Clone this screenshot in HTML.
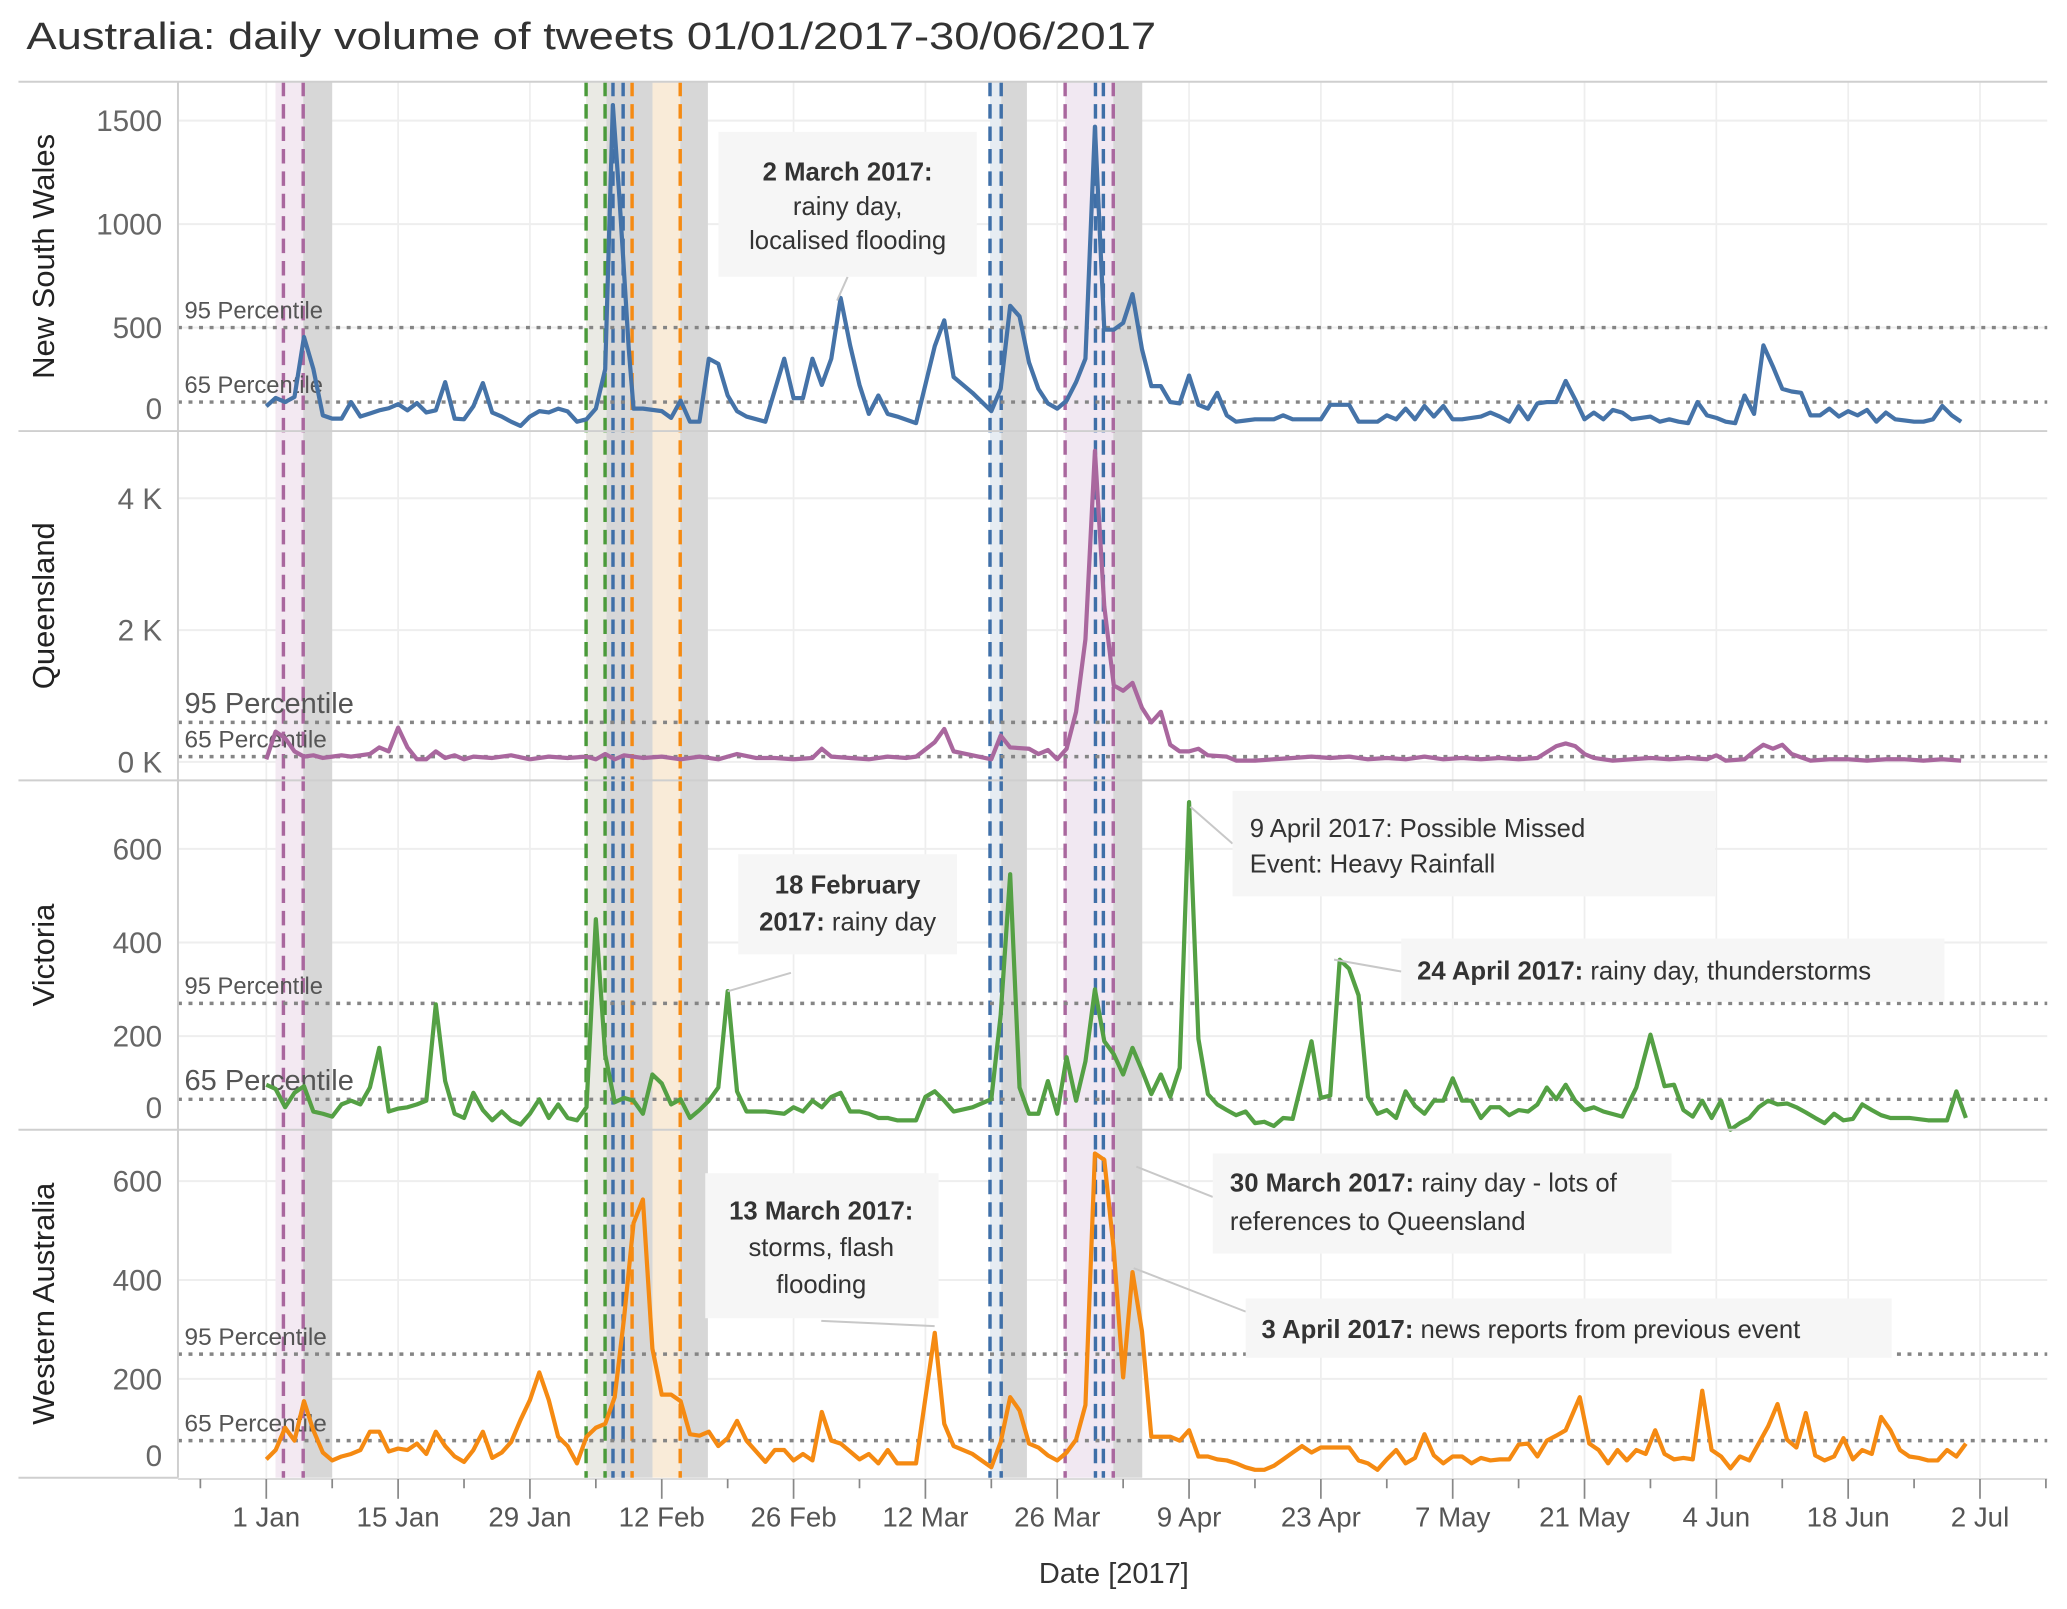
<!DOCTYPE html>
<html><head><meta charset="utf-8"><style>
html,body{margin:0;padding:0;background:#fff;}
svg{display:block;font-family:"Liberation Sans",sans-serif;}
</style></head><body>
<svg id="chart" width="2067" height="1609" viewBox="0 0 1568 1220.6" preserveAspectRatio="none" xmlns="http://www.w3.org/2000/svg">
<text x="20" y="37" font-size="29" fill="#333" textLength="857" lengthAdjust="spacingAndGlyphs">Australia: daily volume of tweets 01/01/2017-30/06/2017</text>
<g id="bg"></g><g id="grid"></g><g id="bands"></g><g id="pct"></g><g id="series"></g><g id="annot"></g><g id="axes"></g>
</svg>
<script>
// ---- data ----
const tickLabels = ["1 Jan","15 Jan","29 Jan","12 Feb","26 Feb","12 Mar","26 Mar","9 Apr","23 Apr","7 May","21 May","4 Jun","18 Jun","2 Jul"];
const regions = ["New South Wales","Queensland","Victoria","Western Australia"];
const nswDays = [0,1,2,3,4,5,6,7,8,9,10,11,12,13,14,15,16,17,18,19,20,21,22,23,24,25,26,27,28,29,30,31,32,33,34,35,36,36.8,37.5,38.5,39,40,42,43,44,45,46,47,48,49,50,51,53,55,56,57,58,59,60,61,62,63,64,65,66,67,69,71,72,73,75,77,78,79,80,81,82,83,84,85,86,87,88,89,90,91,92,93,94,95,96,97,98,99,100,101,102,103,104,105,107,108,109,111,112,113,115,116,118,119,120,121,122,123,124,125,126,127,129,130,131,132,133,134,135,136,137,138,139,140,141,142,143,144,145,147,148,149,150,151,152,153,154,155,156,157,158,159,160,161,162,163,164,165,166,167,168,169,170,171,172,173,175,176,177,178,179,180];
const nswVals = [120,160,140,165,455,300,76,60,60,140,70,85,100,110,130,100,135,90,100,236,60,57,120,232,89,70,45,25,70,96,90,108,95,45,57,108,299,1575,1127,395,108,108,96,64,147,45,45,350,325,172,96,70,45,350,159,159,350,223,350,643,414,223,83,172,83,70,38,410,535,261,185,96,204,605,554,331,204,134,108,147,236,350,1471,490,490,522,662,395,217,217,140,134,268,127,108,185,76,45,51,57,57,76,57,57,57,127,127,45,45,76,57,108,57,121,70,121,57,57,70,89,70,45,121,57,134,140,140,242,153,57,89,57,102,89,57,70,45,57,45,38,140,76,64,45,38,172,83,414,312,204,191,185,76,76,108,70,96,76,102,45,89,57,45,45,57,121,76,45];
const qldDays = [0,1,2,3,4,5,6,7,8,9,10,11,12,13,14,15,16,17,18,19,20,21,22,24,26,28,30,32,34,35,36,37,38,40,42,44,46,48,50,52,54,56,58,59,60,62,64,66,68,69,71,72,73,75,77,78,79,81,82,83,84,85,86,87,88,89,90,91,92,93,94,95,96,97,98,99,100,102,103,105,107,109,111,113,115,117,119,121,123,125,127,129,131,133,135,137,138,139,140,141,143,145,147,149,151,153,154,155,157,158,159,160,161,162,164,166,168,170,172,174,176,178,180];
const qldVals = [40,460,360,160,80,100,60,80,100,80,100,120,220,160,520,220,40,40,160,60,100,40,80,60,100,40,80,60,80,40,120,40,100,60,80,40,80,40,120,60,60,40,60,200,80,60,40,80,60,80,300,500,160,100,40,400,220,200,120,180,40,200,760,1860,4720,2360,1160,1080,1200,820,600,760,260,160,160,200,100,80,20,20,40,60,80,60,80,40,60,40,80,40,60,40,60,40,60,240,280,240,120,60,20,40,60,40,60,40,100,20,40,160,260,200,260,120,20,40,40,20,40,40,20,40,20];
const vicDays = [0,1,2,3,4,5,6,7,8,9,10,11,12,13,14,15,16,17,18,19,20,21,22,23,24,25,26,27,28,29,30,31,32,33,34,35,36,37,38,39,40,41,42,43,44,45,46,47,48,49,50,51,53,55,56,57,58,59,60,61,62,63,64,65,66,67,69,70,71,72,73,75,77,78,79,80,81,82,83,84,85,86,87,88,89,90,91,92,93,94,95,96,97,98,99,100,101,102,103,104,105,106,107,108,109,110,111,112,113,114,115,116,117,118,119,120,121,122,123,124,125,126,127,128,129,130,131,132,133,134,135,136,137,138,139,140,141,142,144,145.5,147,148.5,149.5,150.5,151.5,152.5,153.5,154.5,155.5,156.5,157.5,158.5,159.5,160.5,161.5,162.5,163.5,164.5,165.5,166.5,167.5,168.5,169.5,170.5,171.5,172.5,174.5,176.5,178.5,179.5,180.5];
const vicVals = [96,87,48,79,93,39,34,28,54,62,54,90,175,39,45,48,54,62,268,104,34,25,79,42,20,39,20,11,34,65,25,54,25,20,48,450,160,59,68,62,34,118,99,54,65,25,42,62,90,296,82,39,39,34,48,39,62,48,70,79,39,39,34,25,25,20,20,70,82,62,39,48,65,245,546,90,34,34,104,34,155,62,146,300,189,161,118,175,127,76,118,70,132,700,194,76,54,42,31,39,14,17,8,25,23,104,189,68,73,363,344,287,70,34,42,25,82,51,34,62,62,110,62,62,25,48,48,31,42,39,54,90,65,96,62,42,48,39,28,90,203,93,96,42,28,62,25,62,0,14,25,48,62,54,56,48,37,25,14,34,20,23,54,42,31,25,25,20,20,82,25];
const waDays = [0,1,2,3,4,5,6,7,8,9,10,11,12,13,14,15,16,17,18,19,20,21,22,23,24,25,26,27,28,29,30,31,32,33,34,35,36,37,38,39,40,41,42,43,44,45,46,47,48,49,50,51,53,54,55,56,57,58,59,60,61,62,63,64,65,66,67,69,71,72,73,75,77,78,79,80,81,82,83,84,85,86,87,88,89,90,91,92,93,94,95,96,97,98,99,100,101,102,103,104,105,106,107,108,109,110,111,112,113,114,115,116,117,118,119,120,121,122,123,124,125,126,127,128,129,130,131,132,133,134,135,136,137,138,139.5,140.5,141.5,142.5,143.5,144.5,145.5,146.5,147.5,148.5,149.5,150.5,151.5,152.5,153.5,154.5,155.5,156.5,157.5,158.5,159.5,160.5,161.5,162.5,163.5,164.5,165.5,166.5,167.5,168.5,169.5,170.5,171.5,172.5,173.5,174.5,175.5,176.5,177.5,178.5,179.5,180.5];
const waVals = [37,56,101,75,155,96,51,35,43,48,56,93,93,53,59,56,69,48,93,64,43,32,56,93,40,51,72,117,157,213,157,83,64,29,83,101,109,163,323,515,563,261,168,168,155,88,85,93,64,80,115,75,32,56,56,35,48,35,133,75,69,53,37,48,29,56,29,29,293,109,64,48,21,72,163,136,69,61,45,35,51,77,147,656,643,461,203,416,296,83,83,83,75,96,43,43,37,35,29,21,16,16,24,37,51,64,51,61,61,61,61,35,29,16,37,56,29,40,88,45,29,43,43,29,40,35,37,37,67,69,43,75,85,96,163,69,56,29,56,35,56,48,96,48,37,40,37,176,56,43,19,43,35,69,104,149,77,61,131,45,35,43,80,37,56,48,123,96,56,43,40,35,35,56,43,69];
const yTicksNSW = [0,500,1000,1500];
const yTicksQLD = [0,2000,4000];
const yTicksVIC = [0,200,400,600];
const yTicksWA = [0,200,400,600];
const pct95 = [500,600,270,250];
const pct65 = [140,80,65,75];

// ---- layout ----
const NS="http://www.w3.org/2000/svg";
const PL=135, PR=1553;
const xDay = d => 202 + d*(1300/182);
const panels = [
 {top:62,bot:327,y0:327,k:78.5/500,ticks:yTicksNSW,fmt:v=>String(v),color:"#4573a8",days:nswDays,vals:nswVals,key:"nsw"},
 {top:327,bot:592,y0:578,k:100/2000,ticks:yTicksQLD,fmt:v=>(v/1000)+" K",color:"#a9679e",days:qldDays,vals:qldVals,key:"qld"},
 {top:592,bot:857,y0:857,k:71/200,ticks:yTicksVIC,fmt:v=>String(v),color:"#54a044",days:vicDays,vals:vicVals,key:"vic"},
 {top:857,bot:1121,y0:1121,k:75/200,ticks:yTicksWA,fmt:v=>String(v),color:"#f58a12",days:waDays,vals:waVals,key:"wa"}
];
panels.forEach(p=>p.y=v=>p.y0-v*p.k);
function mk(tag,attrs,parent,text){const e=document.createElementNS(NS,tag);for(const k in attrs)e.setAttribute(k,attrs[k]);if(text!==undefined)e.textContent=text;parent.appendChild(e);return e;}
const G=id=>document.getElementById(id);

// grid
const grid=G("grid");
tickLabels.forEach((t,i)=>{
  const l=mk("line",{x1:xDay(i*14),x2:xDay(i*14),y1:62,y2:1121,stroke:"#eeeeee","stroke-width":1.3},grid);
  
  
});
panels.forEach((p,pi)=>{
  p.ticks.forEach(v=>{
    const yy=p.y(v); if(yy>p.bot-2) return;
    const l=mk("line",{x1:PL,x2:PR,y1:yy,y2:yy,stroke:"#eeeeee","stroke-width":1.5},grid);
    
    
  });
});

// bands & event lines
const bands=G("bands");
const bandRects=[[209,230,"#f3e9f2"],[230,252,"#d7d7d7"],[444.6,460,"#eaeae4"],[460,495,"#d7d7d7"],[495,516,"#f9ebd8"],[516,537,"#d7d7d7"],[751,759.5,"#e6ecf2"],[759.5,779,"#d7d7d7"],[808,844.5,"#f1e8f2"],[844.5,866.5,"#d7d7d7"]];
bandRects.forEach(b=>{
  const r=mk("rect",{x:b[0],y:62,width:b[1]-b[0],height:1059,fill:b[2]},bands);
  
  
});
const evLines=[[215,"#a9679e"],[230,"#a9679e"],[444.6,"#4a9a3a"],[459,"#4a9a3a"],[465,"#3f6fa8"],[472.7,"#3f6fa8"],[479.5,"#f58a12"],[516,"#f58a12"],[751,"#3f6fa8"],[759.5,"#3f6fa8"],[808,"#a9679e"],[831,"#3f6fa8"],[837,"#3f6fa8"],[844.5,"#a9679e"]];
evLines.forEach(e=>{
  const l=mk("line",{x1:e[0],x2:e[0],y1:62,y2:1121,stroke:e[1],"stroke-width":2.6,"stroke-dasharray":"11,6"},bands);
  
  
});

// percentile lines + labels
const pct=G("pct");
const pctLabelCfg=[[18,18],[22,18.5],[18,22],[18.5,18.5]];
panels.forEach((p,i)=>{
  [[pct95[i],"95 Percentile",0],[pct65[i],"65 Percentile",1]].forEach(q=>{
    const yy=p.y(q[0]);
    const l=mk("line",{x1:PL,x2:PR,y1:yy,y2:yy,stroke:"#858585","stroke-width":2.6,"stroke-dasharray":"3,5"},pct);
    
    
    const fs=pctLabelCfg[i][q[2]];
    const t=mk("text",{x:140,y:yy-7,"font-size":fs,fill:"#555"},pct,q[1]);
    
    
  });
});

// series
const ser=G("series");
panels.forEach(p=>{
  const d=p.days.map((dd,i)=>(i?"L":"M")+xDay(dd).toFixed(1)+","+p.y(p.vals[i]).toFixed(1)).join("");
  const path=mk("path",{d:d,fill:"none",stroke:p.color,"stroke-width":3.2,"stroke-linejoin":"round"},ser);
  
  
});

// axes
const ax=G("axes");
mk("line",{x1:14,x2:PR,y1:62,y2:62,stroke:"#cfcfcf","stroke-width":1.5},ax);
panels.forEach((p,i)=>{
  if(i<3){const l=mk("line",{x1:14,x2:PR,y1:p.bot,y2:p.bot,stroke:"#cfcfcf","stroke-width":1.5},ax);
    }
  p.ticks.forEach(v=>{
    let yy=p.y(v)+8; if(p.y(v)>p.bot-8) yy=p.bot-9;
    const t=mk("text",{x:123,y:yy,"font-size":22.5,fill:"#666","text-anchor":"end"},ax,p.fmt(v));
    
    
  });
  const cy=(p.top+p.bot)/2;
  const t=mk("text",{x:0,y:0,"font-size":23.5,fill:"#222","text-anchor":"middle",transform:`translate(41,${cy}) rotate(-90)`},ax,regions[i]);
  
  
});
mk("line",{x1:14,x2:PL,y1:1121,y2:1121,stroke:"#cfcfcf","stroke-width":1.5},ax);
mk("line",{x1:PL,x2:PL,y1:62,y2:1121,stroke:"#cfcfcf","stroke-width":1.5},ax);
mk("line",{x1:PL,x2:PR,y1:1122,y2:1122,stroke:"#dcdcdc","stroke-width":1.5},ax);
for(let w=-7;w<=189;w+=7){
  const x=xDay(w); if(x<PL||x>PR) continue;
  const major=(w%14===0);
  const l=mk("line",{x1:x,x2:x,y1:1122,y2:major?1137:1129,stroke:"#888","stroke-width":1.3},ax);
  
  
}
tickLabels.forEach((t,i)=>{
  const e=mk("text",{x:xDay(i*14),y:1158,"font-size":21,fill:"#555","text-anchor":"middle"},ax,t);
  
  
});
const xt=mk("text",{x:845,y:1201,"font-size":22,fill:"#333","text-anchor":"middle"},ax,"Date [2017]");



// annotations
const an=G("annot");
function box(name,x,y,w,h,lines,anchor,tx,conn){
  const g=mk("g",{},an);
  
  
  mk("line",{x1:conn[0],y1:conn[1],x2:conn[2],y2:conn[3],stroke:"#c8c8c8","stroke-width":1.5},g);
  mk("rect",{x:x,y:y,width:w,height:h,fill:"#f6f6f6"},g);
  lines.forEach(L=>{
    const t=mk("text",{x:tx,y:L.y,"font-size":19.5,fill:"#333","text-anchor":anchor},g);
    L.parts.forEach(pt=>{mk("tspan",{"font-weight":pt[1]?"bold":"normal"},t,pt[0]);});
  });
}
box("annotation-2-march",545,100,196,110,[{y:137,parts:[["2 March 2017:",1]]},{y:163,parts:[["rainy day,",0]]},{y:189,parts:[["localised flooding",0]]}],"middle",643,[643,210,635,228]);
box("annotation-18-february",560,648,166,76,[{y:678,parts:[["18 February",1]]},{y:706,parts:[["2017:",1],[" rainy day",0]]}],"middle",643,[600,738,552,752]);
box("annotation-9-april",935,600,366,80,[{y:635,parts:[["9 April 2017: Possible Missed",0]]},{y:662,parts:[["Event: Heavy Rainfall",0]]}],"start",948,[935,640,903,612]);
box("annotation-24-april",1063,712,412,48,[{y:743,parts:[["24 April 2017:",1],[" rainy day, thunderstorms",0]]}],"start",1075,[1063,737,1012,728]);
box("annotation-13-march",535,890,177,110,[{y:925,parts:[["13 March 2017:",1]]},{y:953,parts:[["storms, flash",0]]},{y:981,parts:[["flooding",0]]}],"middle",623,[623,1002,709,1006]);
box("annotation-30-march",920,875,348,76,[{y:904,parts:[["30 March 2017:",1],[" rainy day - lots of",0]]},{y:933,parts:[["references to Queensland",0]]}],"start",933,[920,908,862,885]);
box("annotation-3-april",945,985,490,45,[{y:1015,parts:[["3 April 2017:",1],[" news reports from previous event",0]]}],"start",957,[945,995,860,962]);
</script>
</body></html>
